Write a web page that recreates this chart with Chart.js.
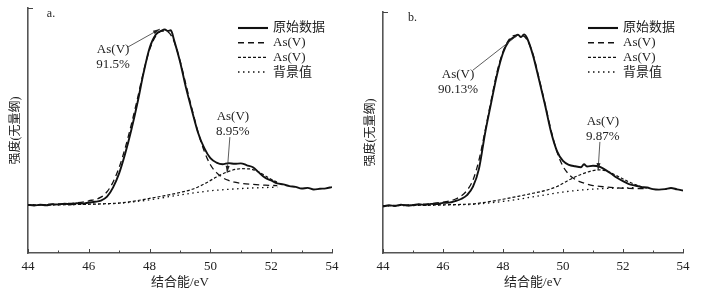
<!DOCTYPE html>
<html>
<head>
<meta charset="utf-8">
<script src="https://cdn.jsdelivr.net/npm/chart.js@4.4.1/dist/chart.umd.min.js"></script>
<style>
  body { margin: 0; background: #fff; }
  #wrap { position: relative; width: 710px; height: 296px; }
  .panel { position: absolute; top: 0; width: 355px; height: 296px; }
</style>
</head>
<body>
<div id="wrap">
  <div class="panel" style="left:0"><canvas id="chartA"></canvas></div>
  <div class="panel" style="left:355px"><canvas id="chartB"></canvas></div>
</div>
<script>
// x axis (binding energy, eV)
const xMin = 44, xMax = 54;
const legendLabels = ['原始数据', 'As(V)', 'As(V)', '背景值'];

// panel a  [eV, intensity]
const rawA = [[44,19.6],[44.2,19.4],[44.4,19.7],[44.6,19.5],[44.8,19.9],[45,19.8],[45.2,20.1],[45.4,19.9],
  [45.6,20.3],[45.8,20.2],[46,20.6],[46.2,20.9],[46.4,21.4],[46.6,23],[46.8,26.8],[47,32.6],[47.2,40.7],
  [47.4,50.3],[47.6,61.2],[47.8,73.4],[48,83.7],[48.2,89.1],[48.4,90.8],[48.5,91.2],[48.6,90.6],[48.7,90.9],
  [48.8,87.1],[49,78.2],[49.2,67.3],[49.4,57.8],[49.6,48.9],[49.8,42.8],[50,38.7],[50.2,36.9],[50.4,36.2],
  [50.6,36.7],[50.8,36.4],[51,36.6],[51.2,35.8],[51.4,35],[51.6,32.8],[51.8,30.7],[52,29.6],[52.2,28.4],
  [52.4,28],[52.6,27.3],[52.8,27],[53,26.3],[53.2,26.6],[53.4,25.9],[53.6,26.2],[53.8,26.4],[54,26.9]];
const peak1A = [[44,19.6],[45,20],[45.6,20.5],[46,21.3],[46.4,22.8],[46.6,25],[46.8,29],[47,35],[47.2,43],
  [47.4,52.5],[47.6,63],[47.8,74],[48,83],[48.2,88.5],[48.4,90.6],[48.6,90.3],[48.8,86.5],[49,78.5],
  [49.2,68.5],[49.4,58.5],[49.6,49],[49.8,41.5],[50,36],[50.2,32.8],[50.4,30.8],[50.6,29.6],[50.8,28.9],
  [51,28.4],[51.4,28],[51.8,27.7],[52.2,27.5]];
const peak2A = [[44,19.6],[45,19.7],[46,19.9],[46.5,20.1],[47,20.4],[47.5,21.2],[48,22.3],[48.5,23.4],
  [49,24.7],[49.4,26],[49.8,28.2],[50.2,31],[50.6,33.3],[51,34.4],[51.3,34.3],[51.6,33],[51.9,30.8],[52.2,28.9]];
const bgA = [[44,19.6],[45,19.7],[46,19.9],[47,20.3],[47.5,20.9],[48,21.7],[48.5,22.7],[49,23.7],[49.5,24.6],
  [50,25.4],[50.5,25.9],[51,26.3],[51.5,26.6],[52,26.8],[52.2,26.9]];
const pctA = ['91.5%', '8.95%'];

// panel b  [eV, intensity]
const rawB = [[44,19.3],[44.2,19.8],[44.4,19.5],[44.6,20],[44.8,19.7],[45,19.9],[45.2,20.2],[45.4,19.9],
  [45.6,20.4],[45.8,20.3],[46,20.8],[46.2,20.9],[46.4,21.5],[46.6,22.4],[46.8,24],[47,27.5],[47.2,35],
  [47.4,49.5],[47.6,62],[47.8,74],[48,83],[48.2,88],[48.4,89.8],[48.5,90.6],[48.6,89.6],[48.7,90.7],
  [48.8,89.2],[49,82],[49.2,72],[49.4,61.5],[49.6,50.3],[49.8,42.3],[50,38.2],[50.2,36.6],[50.4,36],
  [50.6,35.6],[50.7,36.8],[50.8,35.9],[51,36.2],[51.2,35.9],[51.4,34.6],[51.6,33],[51.8,31.2],[52,29.8],
  [52.2,28.6],[52.4,28],[52.6,27.4],[52.8,27.2],[53,26.5],[53.2,26.3],[53.4,26.5],[53.6,27],[53.8,26.4],[54,25.9]];
const peak1B = [[44,19.6],[45,20],[46,21.1],[46.4,22.3],[46.6,23.6],[46.8,26],[47,30.3],[47.2,38.6],
  [47.4,50.5],[47.6,63],[47.8,75],[48,83.5],[48.2,88.5],[48.4,90.3],[48.6,90.4],[48.8,88.5],[49,82.5],
  [49.2,72.5],[49.4,62],[49.6,51],[49.8,42],[50,36],[50.2,32.6],[50.4,30.6],[50.6,29.4],[50.8,28.6],
  [51,28],[51.4,27.4],[51.8,27],[52.2,26.8],[52.7,26.7]];
const peak2B = [[44,19.6],[45,19.8],[46,20],[47,20.4],[47.5,21.2],[48,22.3],[48.5,23.5],[49,24.8],
  [49.4,25.9],[49.8,27.6],[50.2,30.3],[50.6,32.6],[51,34.2],[51.2,34.5],[51.5,33.8],[51.8,32],[52.2,29.5],
  [52.6,27.5],[52.8,26.9]];
const bgB = [[44,19.6],[45,19.7],[46,19.9],[47,20.2],[47.5,20.7],[48,21.4],[48.5,22.3],[49,23.3],[49.5,24.3],
  [50,25.3],[50.5,26],[51,26.5],[51.5,26.8],[52,27],[52.4,27.1]];
const pctB = ['90.13%', '9.87%'];

const FONT = "'Liberation Serif', 'Noto Sans CJK SC', serif";
const INK = '#222';
const dashes = [[], [6, 4], [3, 2], [1.5, 3.5]];
const widths = [1.9, 1.3, 1.2, 1.3];

function pts(arr) {
  return arr.map(p => ({ x: p[0], y: p[1] }));
}

function arrow(ctx, x1, y1, x2, y2, head) {
  ctx.beginPath();
  ctx.moveTo(x1, y1);
  ctx.lineTo(x2, y2);
  ctx.stroke();
  if (!head) return;
  const a = Math.atan2(y2 - y1, x2 - x1);
  ctx.beginPath();
  ctx.moveTo(x2, y2);
  ctx.lineTo(x2 - 7 * Math.cos(a) + 2 * Math.sin(a), y2 - 7 * Math.sin(a) - 2 * Math.cos(a));
  ctx.lineTo(x2 - 7 * Math.cos(a) - 2 * Math.sin(a), y2 - 7 * Math.sin(a) + 2 * Math.cos(a));
  ctx.closePath();
  ctx.fill();
}

// ticks, legend and labels
const decor = {
  id: 'decor',
  afterDraw(chart, args, o) {
    const { ctx, chartArea: ca, scales: { x, y } } = chart;
    ctx.save();
    ctx.strokeStyle = '#444';
    ctx.fillStyle = INK;
    ctx.lineWidth = 1;
    // inward x ticks
    for (let v = xMin; v <= xMax; v++) {
      const px = Math.round(x.getPixelForValue(v)) + 0.5;
      const len = v % 2 === 0 ? 4 : 2.5;
      ctx.beginPath();
      ctx.moveTo(px, ca.bottom);
      ctx.lineTo(px, ca.bottom - len);
      ctx.stroke();
    }
    // top y tick
    ctx.beginPath();
    ctx.moveTo(ca.left, ca.top + 0.5);
    ctx.lineTo(ca.left + 5, ca.top + 0.5);
    ctx.stroke();

    // legend
    ctx.font = '13px ' + FONT;
    ctx.textBaseline = 'middle';
    ctx.textAlign = 'left';
    legendLabels.forEach((lab, i) => {
      const ly = o.legY + i * 14.7;
      ctx.save();
      ctx.strokeStyle = '#111';
      ctx.lineWidth = widths[i] + 0.2;
      ctx.setLineDash(dashes[i]);
      ctx.beginPath();
      ctx.moveTo(o.legX, ly);
      ctx.lineTo(o.legX + 30, ly);
      ctx.stroke();
      ctx.restore();
      ctx.fillText(lab, o.legX + 35, ly);
    });

    // panel letter
    ctx.font = '12px ' + FONT;
    ctx.fillText(o.letter, x.getPixelForValue(o.letterAt[0]), y.getPixelForValue(o.letterAt[1]));

    // peak annotations
    ctx.font = '13px ' + FONT;
    ctx.textAlign = 'center';
    ctx.lineWidth = 0.8;
    ctx.strokeStyle = '#333';
    o.notes.forEach(n => {
      const tx = x.getPixelForValue(n.at[0]);
      const ty = y.getPixelForValue(n.at[1]);
      ctx.fillText('As(V)', tx, ty);
      ctx.fillText(n.pct, tx, ty + 15);
      arrow(ctx, x.getPixelForValue(n.from[0]), y.getPixelForValue(n.from[1]),
        x.getPixelForValue(n.to[0]), y.getPixelForValue(n.to[1]), n.head);
    });
    ctx.restore();
  }
};

function makeChart(id, series, pad, deco) {
  const datasets = series.map((s, i) => ({
    data: pts(s),
    borderColor: '#111',
    borderWidth: widths[i],
    borderDash: dashes[i],
    pointRadius: 0,
    fill: false,
    cubicInterpolationMode: 'monotone'
  }));
  return new Chart(document.getElementById(id), {
    type: 'line',
    data: { datasets: datasets },
    options: {
      responsive: true,
      maintainAspectRatio: false,
      animation: false,
      layout: { padding: pad },
      plugins: { legend: { display: false }, tooltip: { enabled: false }, decor: deco },
      scales: {
        x: {
          type: 'linear',
          min: xMin,
          max: xMax,
          afterFit: s => { s.height = 43; },
          grid: { display: false, drawTicks: false, tickLength: 0 },
          border: { display: true, color: '#555', width: 1.6 },
          ticks: {
            stepSize: 1,
            padding: 6,
            color: INK,
            maxRotation: 0,
            autoSkip: false,
            font: { family: FONT, size: 13 },
            callback: v => (v % 2 === 0 ? v : '')
          },
          title: {
            display: true,
            text: '结合能/eV',
            color: INK,
            font: { family: FONT, size: 13 },
            padding: { top: 0, bottom: 6 }
          }
        },
        y: {
          min: 0,
          max: 100,
          afterFit: s => { s.width = 28; },
          grid: { display: false },
          border: { display: true, color: '#555', width: 1.6 },
          ticks: { display: false },
          title: {
            display: true,
            text: '强度(无量纲)',
            color: INK,
            font: { family: FONT, size: 12 },
            padding: { top: 9, bottom: 0 }
          }
        }
      }
    },
    plugins: [decor]
  });
}

makeChart('chartA', [rawA, peak1A, peak2A, bgA], { top: 8, right: 23, left: 0, bottom: 0 }, {
  legX: 238, legY: 28, letter: 'a.', letterAt: [44.62, 97.5],
  notes: [
    { pct: pctA[0], at: [46.8, 82.9], from: [47.29, 84.1], to: [48.34, 91.4], head: true },
    { pct: pctA[1], at: [50.74, 55.5], from: [50.64, 47.3], to: [50.55, 32.7], head: true }
  ]
});

makeChart('chartB', [rawB, peak1B, peak2B, bgB], { top: 12, right: 27, left: 0, bottom: 0 }, {
  legX: 233, legY: 28, letter: 'b.', letterAt: [44.83, 97.5],
  notes: [
    { pct: pctB[0], at: [46.5, 73.9], from: [47.0, 75.9], to: [48.5, 90.5], head: false },
    { pct: pctB[1], at: [51.33, 54.4], from: [51.23, 46.1], to: [51.17, 34.4], head: true }
  ]
});
</script>
</body>
</html>
